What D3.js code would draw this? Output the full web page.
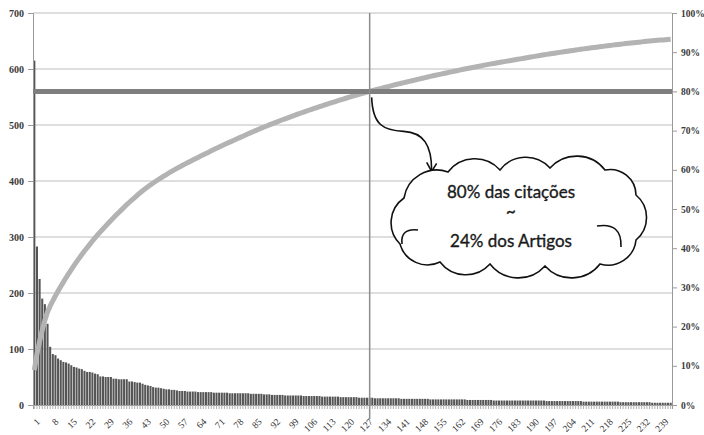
<!DOCTYPE html>
<html>
<head>
<meta charset="utf-8">
<script src="https://cdn.jsdelivr.net/npm/d3@7"></script>
<style>
  html, body { margin: 0; padding: 0; background: #fff; }
  svg { display: block; }
</style>
</head>
<body>
<svg id="chart" width="704" height="435"></svg>
<script>
// Citations per article, articles ranked from most to least cited (ranks 1..242)
const citations = [
  615, 283, 225, 190, 180, 145, 104,
  91, 89, 83, 80, 77, 76, 74, 71,
  68, 67, 65, 64, 61, 59, 59, 58, 56, 55,
  51, 51, 50, 50, 50, 47, 47, 46, 46, 46, 46,
  42, 42, 41, 40, 40, 38, 36, 35, 34,
  32, 31, 31, 30, 29, 28, 28, 27, 27, 26,
  25, 25, 25, 24, 24, 24, 24, 23, 23, 23, 23, 23, 23, 22, 22,
  22, 22, 22, 22, 21, 21, 21, 21, 21, 21, 21, 21, 20, 20, 20, 20, 20, 19, 19, 19,
  18, 18, 18, 18, 18, 17, 17, 17, 17, 17, 17, 17, 16, 16, 16, 16, 16, 16, 16, 15,
  15, 15, 15, 15, 15, 15, 14, 14, 14, 14, 14, 14, 14, 13, 13, 13, 13, 13,
  13, 12, 12, 12, 12, 12, 12, 12, 12, 12, 12, 11,
  11, 11, 11, 11, 11, 11, 11, 11, 11, 11, 10, 10, 10, 10, 10, 10, 10, 10, 10, 10,
  10, 10, 10, 10, 9, 9, 9, 9, 9, 9, 9, 9, 9, 9, 8, 8, 8, 8, 8, 8, 8, 8, 8, 8,
  8, 8, 8, 8, 8, 8, 8, 8, 8, 8,
  7, 7, 7, 7, 7, 7, 7, 7, 7, 7, 7, 7, 7, 7,
  6, 6, 6, 6, 6, 6, 6, 6, 6, 6, 6, 6, 6, 6,
  5, 5, 5, 5, 5, 5, 5, 5, 5, 5, 5, 5,
  4, 4, 4, 4, 4, 4, 4, 4
];
const categories = citations.map((_, i) => i + 1);

// Total citations over the whole collection (the ranking continues past rank 242)
const totalCitations = 6896;
// Pareto threshold and the article rank where the cumulative share reaches it
const paretoShare = 0.8;
const paretoRank = 128;

const xTickLabels = [1, 8, 15, 22, 29, 36, 43, 50, 57, 64, 71, 78, 85, 92, 99, 106, 113,
  120, 127, 134, 141, 148, 155, 162, 169, 176, 183, 190, 197, 204, 211, 218, 225, 232, 239];
const leftTicks = [0, 100, 200, 300, 400, 500, 600, 700];
const rightTicks = [0, 0.1, 0.2, 0.3, 0.4, 0.5, 0.6, 0.7, 0.8, 0.9, 1];

const calloutLines = ["80% das citações", "~", "24% dos Artigos"];

// running share of all citations
let run = 0;
const cumulative = citations.map(v => (run += v) / totalCitations);

const svg = d3.select("#chart");
const plot = { left: 33, right: 672, top: 13, bottom: 405 };
const tickFont = "'Liberation Serif', 'DejaVu Serif', serif";

const x = d3.scaleBand().domain(categories)
  .range([plot.left, plot.right]).paddingInner(0.22).paddingOuter(0.11);
const yL = d3.scaleLinear().domain([0, 700]).range([plot.bottom, plot.top]);
const yR = d3.scaleLinear().domain([0, 1]).range([plot.bottom, plot.top]);
const cx = d => x(d) + x.bandwidth() / 2;

// horizontal gridlines
svg.append("g")
  .selectAll("line").data(leftTicks.slice(1)).join("line")
  .attr("x1", plot.left).attr("x2", plot.right)
  .attr("y1", d => yL(d)).attr("y2", d => yL(d))
  .attr("stroke", "#bdbdbd").attr("stroke-width", 1);

// bars
svg.append("g")
  .selectAll("rect").data(citations).join("rect")
  .attr("x", (d, i) => x(categories[i]))
  .attr("width", x.bandwidth())
  .attr("y", d => yL(d))
  .attr("height", d => plot.bottom - yL(d))
  .attr("fill", "#555");

// left axis
const gL = svg.append("g").attr("transform", `translate(${plot.left},0)`)
  .call(d3.axisLeft(yL).tickValues(leftTicks).tickSize(5).tickPadding(4));
// right axis
const gR = svg.append("g").attr("transform", `translate(${plot.right},0)`)
  .call(d3.axisRight(yR).tickValues(rightTicks).tickSize(5).tickPadding(4)
    .tickFormat(d3.format(".0%")));
// category ticks along the bottom
const gB = svg.append("g").attr("transform", `translate(0,${plot.bottom})`)
  .call(d3.axisBottom(x).tickValues(categories).tickSize(4).tickFormat(""));
// category labels
const gBL = svg.append("g").attr("transform", `translate(0,${plot.bottom})`)
  .call(d3.axisBottom(x).tickValues(xTickLabels).tickSize(0));
gBL.select(".domain").remove();

[gL, gR, gB, gBL].forEach(g => {
  g.attr("font-family", null);
  g.selectAll(".domain").attr("stroke", "#9a9a9a");
  g.selectAll(".tick line").attr("stroke", "#9a9a9a");
  g.selectAll("text").attr("fill", "#3a3a3a")
    .attr("font-family", tickFont).style("font-family", tickFont)
    .style("font-size", "10px").style("font-weight", "bold");
});
gR.selectAll("text").style("font-size", "9.5px");
gB.selectAll(".tick line").attr("stroke", "#b0b0b0");
gBL.selectAll("text")
  .attr("text-anchor", "end")
  .attr("transform", "translate(4,15) rotate(-45)")
  .attr("dy", "0.35em").attr("y", 0).attr("x", 0)
  .style("font-size", "9.5px").style("font-weight", "normal").attr("fill", "#333");

// cumulative share line
svg.append("path")
  .datum(cumulative)
  .attr("fill", "none")
  .attr("stroke", "#b3b3b3")
  .attr("stroke-width", 5)
  .attr("stroke-linejoin", "round")
  .attr("d", d3.line().x((d, i) => cx(categories[i])).y(d => yR(d)));

// 80% reference line
svg.append("line")
  .attr("x1", plot.left).attr("x2", plot.right)
  .attr("y1", yR(paretoShare)).attr("y2", yR(paretoShare))
  .attr("stroke", "#7f7f7f").attr("stroke-width", 5);

// rank where the cumulative share crosses 80%
svg.append("line")
  .attr("x1", cx(paretoRank)).attr("x2", cx(paretoRank))
  .attr("y1", plot.top).attr("y2", plot.bottom + 14)
  .attr("stroke", "#8c8c8c").attr("stroke-width", 1.5);

// curved arrow from the crossing point to the callout
const ax = cx(paretoRank), ay = yR(paretoShare);
svg.append("path")
  .attr("d", `M${ax + 2},${ay + 6} C${ax + 3},${ay + 34} ${ax + 14},${ay + 39} ${ax + 34},${ay + 40}` +
    ` C${ax + 54},${ay + 41} ${ax + 62},${ay + 54} ${ax + 62},${ay + 79}`)
  .attr("fill", "none").attr("stroke", "#111").attr("stroke-width", 1.6);
svg.append("path")
  .attr("d", `M${ax + 57},${ay + 71} L${ax + 62},${ay + 80} L${ax + 67},${ay + 72}`)
  .attr("fill", "none").attr("stroke", "#111").attr("stroke-width", 1.6);

// cloud callout
const cloudPts = [[400, 244], [404, 198], [448, 172], [500, 170], [550, 168], [605, 170],
  [636, 195], [636, 240], [600, 264], [545, 266], [490, 264], [440, 262]];
let cloudD = `M${cloudPts[0][0]},${cloudPts[0][1]}`;
cloudPts.forEach((p, i) => {
  const q = cloudPts[(i + 1) % cloudPts.length];
  const c = Math.hypot(q[0] - p[0], q[1] - p[1]);
  const r = 0.65 * c;
  cloudD += ` A${r.toFixed(1)},${r.toFixed(1)} 0 0 1 ${q[0]},${q[1]}`;
});
cloudD += " Z";
svg.append("path").attr("d", cloudD)
  .attr("fill", "#fff").attr("stroke", "#111").attr("stroke-width", 1.6);
svg.append("path").attr("d", "M418,230 Q400,228 402,244")
  .attr("fill", "none").attr("stroke", "#111").attr("stroke-width", 1.6);
svg.append("path").attr("d", "M597,226 Q622,222 621,247")
  .attr("fill", "none").attr("stroke", "#111").attr("stroke-width", 1.6);

svg.append("g").selectAll("text").data(calloutLines).join("text")
  .attr("x", 511)
  .attr("y", (d, i) => [198, 217, 247][i])
  .attr("text-anchor", "middle")
  .style("font-family", "Lato, 'Open Sans', sans-serif")
  .style("font-size", "17px")
  .attr("fill", "#1a1a1a")
  .attr("stroke", "#1a1a1a").attr("stroke-width", 0.35)
  .text(d => d);
</script>
</body>
</html>
